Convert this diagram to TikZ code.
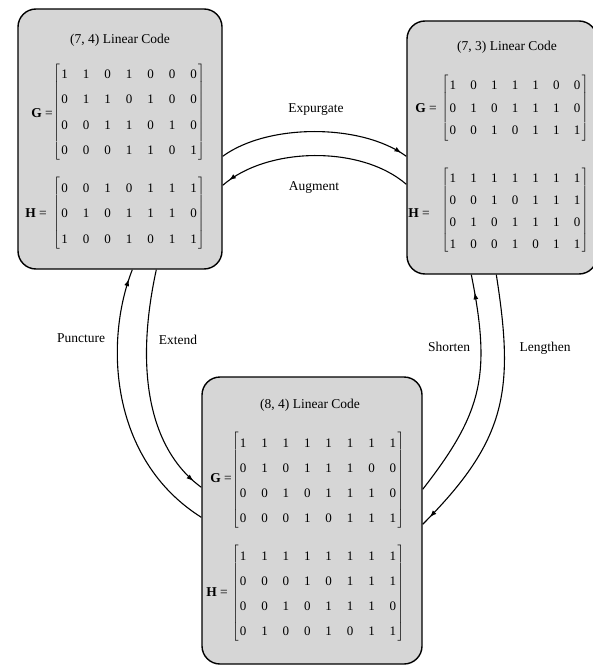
\documentclass[tikz,border=0pt]{standalone}
\usepackage{fontspec}
\setmainfont{Liberation Serif}
\usetikzlibrary{matrix,arrows.meta,decorations.markings}
\definecolor{boxfill}{gray}{0.84}
\begin{document}
\begin{tikzpicture}[x=1pt,y=-1pt,
  codebox/.style={draw=black, line width=1.4pt, fill=boxfill, rounded corners=18pt, inner sep=0pt},
  txt/.style={font=\fontsize{13.5}{14}\selectfont, inner sep=0pt},
  bits/.style 2 args={matrix of nodes, inner sep=0pt,
    nodes={font=\fontsize{13}{13}\selectfont, inner sep=0pt, minimum width=6pt,
           text height=15pt, text depth=6pt},
    column sep=#1, row sep=#2,
    left delimiter={[}, right delimiter={]}},
  link/.style={line width=1.1pt},
  tipat/.style={postaction={decorate},
    decoration={markings, mark=at position #1 with {\arrow{Latex[length=7pt,width=5pt]}}}},
]
\useasboundingbox (0,0) rectangle (593,668);
\clip (0,0) rectangle (593,668);

% the three code boxes
\node[codebox, minimum width=204pt, minimum height=260pt] (b1) at (120,139) {};
\node[codebox, minimum width=190pt, minimum height=253pt] (b2) at (502,147.5) {};
\node[codebox, minimum width=220pt, minimum height=287pt] (b3) at (312,520.5) {};

% (7,4) code
\node[txt] (t1) at (120,40) {(7, 4) Linear Code};
\node[txt] (gl1) at (42,113) {\textbf{G} =};
\node[txt] (hl1) at (36,213) {\textbf{H} =};
\matrix (g1) [bits={15pt}{4.3pt}] at (129,112) {
1 & 1 & 0 & 1 & 0 & 0 & 0 \\
0 & 1 & 1 & 0 & 1 & 0 & 0 \\
0 & 0 & 1 & 1 & 0 & 1 & 0 \\
0 & 0 & 0 & 1 & 1 & 0 & 1 \\
};
\matrix (h1) [bits={15pt}{4.5pt}] at (129,213.5) {
0 & 0 & 1 & 0 & 1 & 1 & 1 \\
0 & 1 & 0 & 1 & 1 & 1 & 0 \\
1 & 0 & 0 & 1 & 0 & 1 & 1 \\
};

% (7,3) code
\node[txt] (t2) at (507,47) {(7, 3) Linear Code};
\node[txt] (gl2) at (426,108) {\textbf{G} =};
\node[txt] (hl2) at (419,213) {\textbf{H} =};
\matrix (g2) [bits={14.2pt}{1.5pt}] at (515,108) {
1 & 0 & 1 & 1 & 1 & 0 & 0 \\
0 & 1 & 0 & 1 & 1 & 1 & 0 \\
0 & 0 & 1 & 0 & 1 & 1 & 1 \\
};
\matrix (h2) [bits={14.2pt}{1pt}] at (515,210.5) {
1 & 1 & 1 & 1 & 1 & 1 & 1 \\
0 & 0 & 1 & 0 & 1 & 1 & 1 \\
0 & 1 & 0 & 1 & 1 & 1 & 0 \\
1 & 0 & 0 & 1 & 0 & 1 & 1 \\
};

% (8,4) code
\node[txt] (t3) at (310,405) {(8, 4) Linear Code};
\node[txt] (gl3) at (221,478) {\textbf{G} =};
\node[txt] (hl3) at (217,592) {\textbf{H} =};
\matrix (g3) [bits={14.9pt}{4pt}] at (318,480) {
1 & 1 & 1 & 1 & 1 & 1 & 1 & 1 \\
0 & 1 & 0 & 1 & 1 & 1 & 0 & 0 \\
0 & 0 & 1 & 0 & 1 & 1 & 1 & 0 \\
0 & 0 & 0 & 1 & 0 & 1 & 1 & 1 \\
};
\matrix (h3) [bits={14.9pt}{4pt}] at (318,593) {
1 & 1 & 1 & 1 & 1 & 1 & 1 & 1 \\
0 & 0 & 0 & 1 & 0 & 1 & 1 & 1 \\
0 & 0 & 1 & 0 & 1 & 1 & 1 & 0 \\
0 & 1 & 0 & 0 & 1 & 0 & 1 & 1 \\
};

% end points of the transformations on the box borders
\coordinate (ex-a) at ([yshift=-148pt]b1.north east);
\coordinate (au-b) at ([yshift=-177pt]b1.north east);
\coordinate (ex-b) at ([yshift=-136pt]b2.north west);
\coordinate (au-a) at ([yshift=-164pt]b2.north west);
\coordinate (pu-b) at ([xshift=115pt]b1.south west);
\coordinate (xt-a) at ([xshift=139pt]b1.south west);
\coordinate (xt-b) at ([yshift=-111pt]b3.north west);
\coordinate (pu-a) at ([yshift=-141pt]b3.north west);
\coordinate (sh-b) at ([xshift=65pt]b2.south west);
\coordinate (le-a) at ([xshift=90pt]b2.south west);
\coordinate (sh-a) at ([yshift=-113pt]b3.north east);
\coordinate (le-b) at ([yshift=-148pt]b3.north east);

% transformations
\draw[link, tipat=-6pt] (ex-a) .. controls +(45,-33) and +(-45,-33) .. (ex-b);
\draw[link, tipat=-8pt] (au-a) .. controls +(-45,-39) and +(45,-39) .. (au-b);
\draw[link, tipat=-10pt] (pu-a) .. controls +(-92,-58) and +(-28,71) .. (pu-b);
\draw[link, tipat=-10pt] (xt-a) .. controls +(-22,101) and +(-52,-38) .. (xt-b);
\draw[link, tipat=-18pt] (sh-a) .. controls +(60,-77) and +(20,100) .. (sh-b);
\draw[link, tipat=-10pt] (le-a) .. controls +(18,115) and +(85,-85) .. (le-b);

\node[txt] (l-ex) at (316,110) {Expurgate};
\node[txt] (l-au) at (314,188) {Augment};
\node[txt] (l-pu) at (81,338) {Puncture};
\node[txt] (l-xt) at (178,340) {Extend};
\node[txt] (l-sh) at (449,347) {Shorten};
\node[txt] (l-le) at (545,348) {Lengthen};
\end{tikzpicture}
\end{document}
